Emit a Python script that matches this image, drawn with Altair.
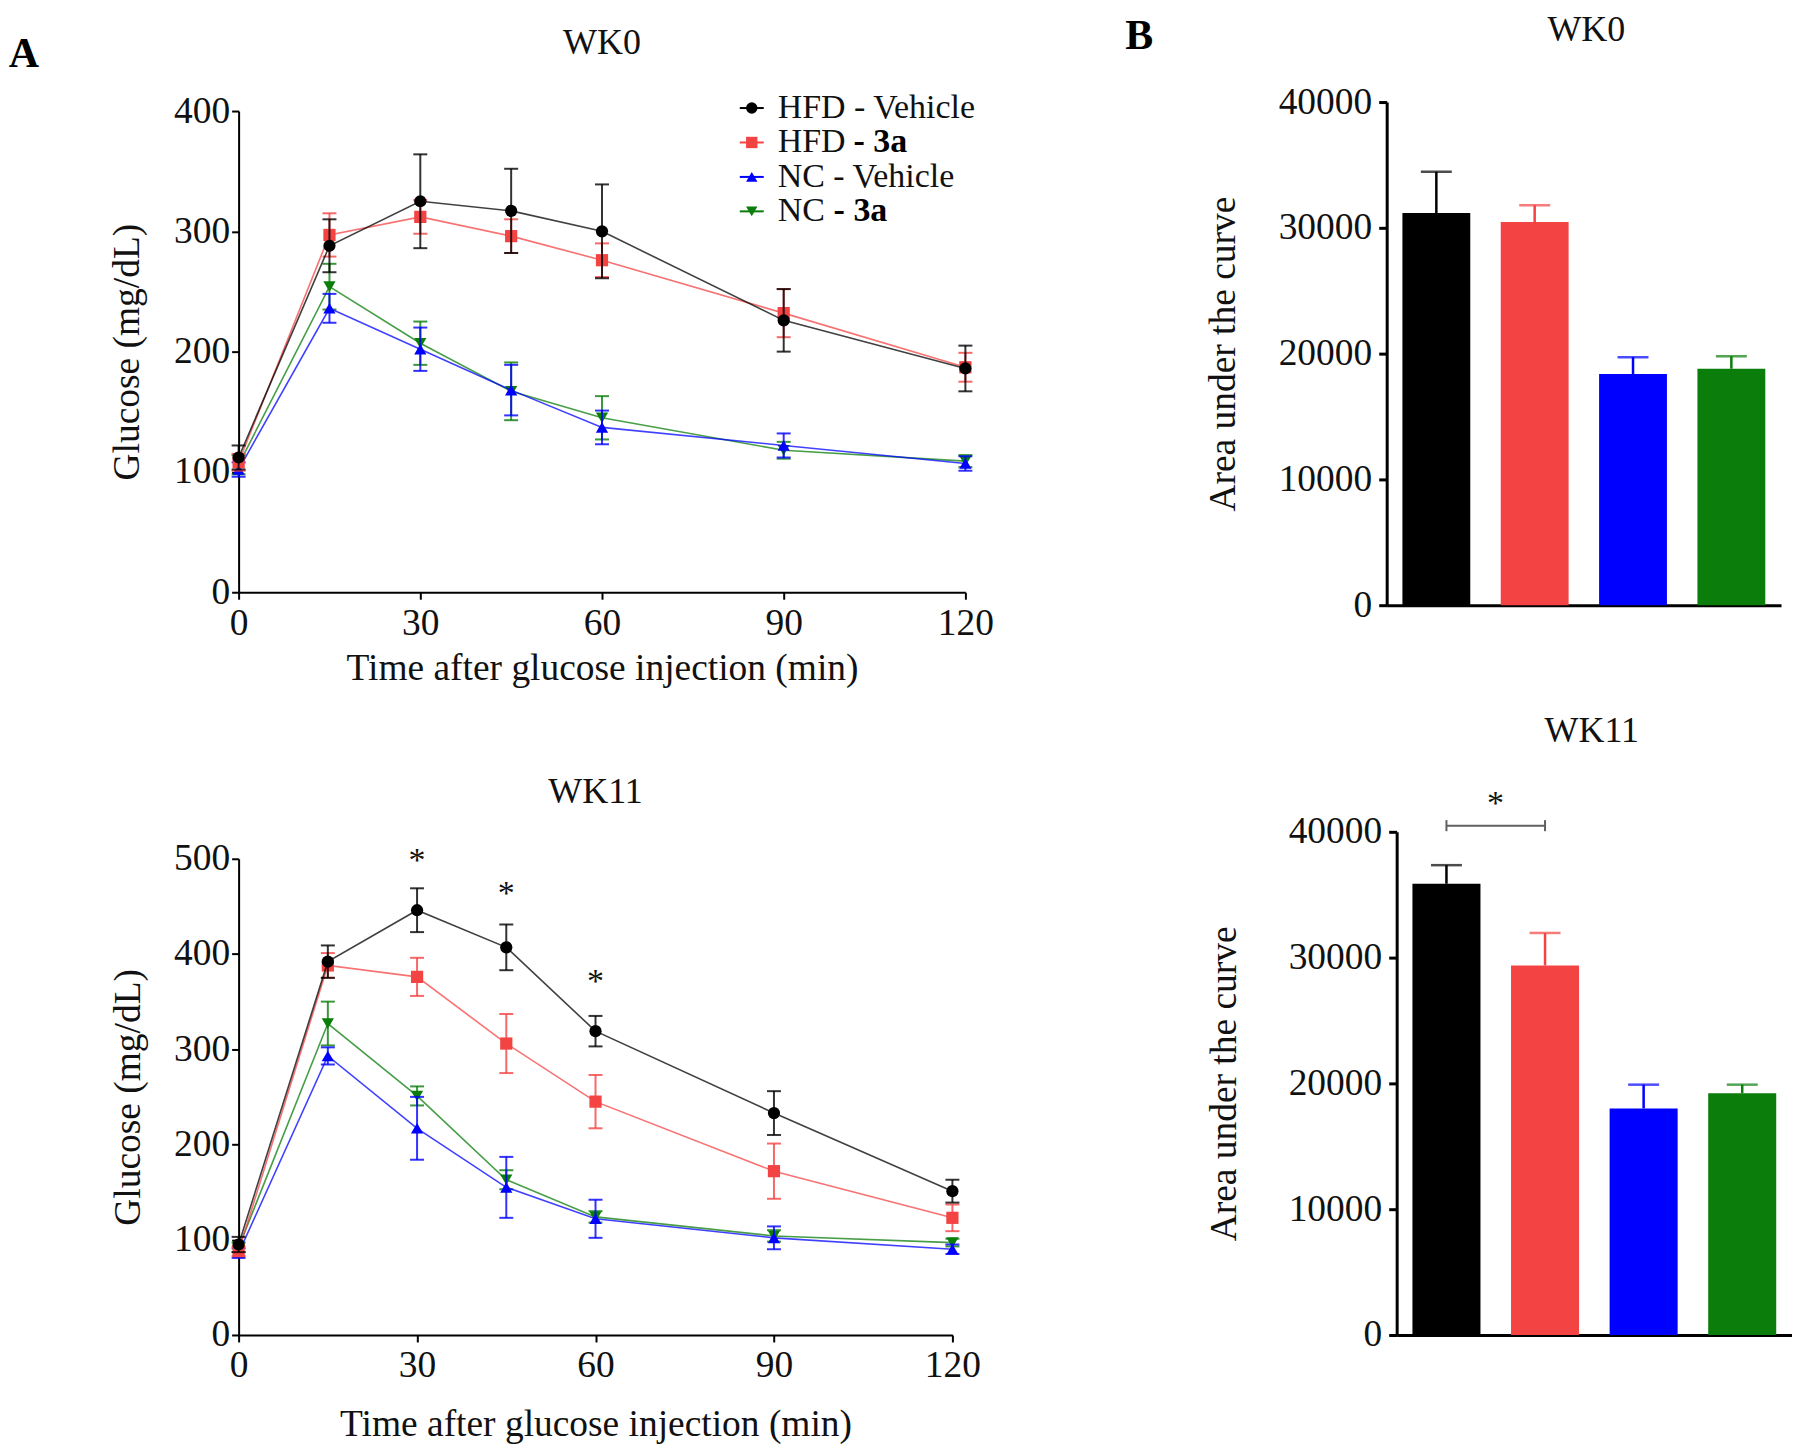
import altair as alt
import pandas as pd

FONT = "Liberation Serif"
INK = "#111111"

# ---------------- data ----------------
times = [0, 15, 30, 45, 60, 90, 120]
groups = ["HFD - Vehicle", "HFD - 3a", "NC - Vehicle", "NC - 3a"]
group_colors = ["#000000", "#F44343", "#0000FF", "#0A7D0A"]
group_shapes = ["circle", "square", "triangle-up", "triangle-down"]
legend_plain = ["HFD - Vehicle", "HFD", "NC - Vehicle", "NC"]
legend_bold = ["", "- 3a", "", "- 3a"]

# WK0 glucose tolerance (mean, SEM)
wk0_hfd_vehicle = [112, 288, 325, 317, 300, 226, 186]
wk0_hfd_vehicle_sem = [10, 22, 39, 35, 39, 26, 19]
wk0_hfd_3a = [108, 297, 312, 296, 276, 232, 187]
wk0_hfd_3a_sem = [7, 18, 14, 14, 14, 20, 12]
wk0_nc_vehicle = [102, 236, 202, 168, 137, 122, 107]
wk0_nc_vehicle_sem = [6, 12, 18, 21, 14, 10, 6]
wk0_nc_3a = [106, 254, 207, 167, 145, 118, 109]
wk0_nc_3a_sem = [8, 19, 18, 24, 18, 7, 5]

# WK11 glucose tolerance (mean, SEM)
wk11_hfd_vehicle = [95, 392, 446, 407, 319, 233, 151]
wk11_hfd_vehicle_sem = [8, 17, 23, 24, 16, 23, 12]
wk11_hfd_3a = [88, 388, 376, 306, 245, 172, 123]
wk11_hfd_3a_sem = [5, 13, 20, 31, 28, 29, 14]
wk11_nc_vehicle = [86, 293, 217, 155, 122, 102, 90]
wk11_nc_vehicle_sem = [5, 9, 33, 32, 20, 12, 5]
wk11_nc_3a = [92, 327, 251, 163, 124, 104, 97]
wk11_nc_3a_sem = [5, 23, 10, 10, 6, 6, 4]

# significance marks on WK11 curve
wk11_star_times = [30, 45, 60]
wk11_star_y = [505, 470, 378]

# AUC bars (mean, SEM)
auc_wk0 = [31170, 30460, 18380, 18800]
auc_wk0_sem = [3290, 1340, 1340, 990]
auc_wk11 = [35870, 29380, 18010, 19220]
auc_wk11_sem = [1480, 2580, 1890, 680]
auc_wk11_bracket_y = 40490
auc_wk11_star_y = 42760

wk0_means = [wk0_hfd_vehicle, wk0_hfd_3a, wk0_nc_vehicle, wk0_nc_3a]
wk0_sems = [wk0_hfd_vehicle_sem, wk0_hfd_3a_sem, wk0_nc_vehicle_sem, wk0_nc_3a_sem]
wk11_means = [wk11_hfd_vehicle, wk11_hfd_3a, wk11_nc_vehicle, wk11_nc_3a]
wk11_sems = [wk11_hfd_vehicle_sem, wk11_hfd_3a_sem, wk11_nc_vehicle_sem, wk11_nc_3a_sem]

LABEL_FS = 37.5
TITLE_FS = 36


# ---------------- line panels ----------------
def line_panel(means, sems, ymax, title, width, height, title_offset,
               ytp, xtp, extra=None):
    xs = alt.Scale(domain=[0, 120], nice=False, zero=False)
    ys = alt.Scale(domain=[0, ymax], nice=False)
    xax = alt.Axis(values=[0, 30, 60, 90, 120], title="Time after glucose injection (min)",
                   titleFontSize=37.5, titlePadding=xtp, labelPadding=5,
                   domainWidth=2, tickWidth=2, tickSize=7)
    yax = alt.Axis(values=list(range(0, ymax + 1, 100)), title="Glucose (mg/dL)",
                   titleFontSize=37.5, titlePadding=ytp, labelPadding=2,
                   domainWidth=2, tickWidth=2, tickSize=7)
    X = alt.X("t:Q", scale=xs, axis=xax)

    def Y(f):
        return alt.Y(f, scale=ys, axis=yax)

    layers = []
    for gi in [3, 2, 1, 0]:
        df = pd.DataFrame({
            "t": times,
            "mean": means[gi],
            "lo": [m - s for m, s in zip(means[gi], sems[gi])],
            "hi": [m + s for m, s in zip(means[gi], sems[gi])],
        })
        c = group_colors[gi]
        base = alt.Chart(df)
        layers += [
            base.mark_rule(color=c, strokeWidth=2, opacity=0.8).encode(x=X, y=Y("lo:Q"), y2="hi:Q"),
            base.mark_tick(color=c, orient="horizontal", size=14, thickness=2, opacity=0.8).encode(x=X, y=Y("hi:Q")),
            base.mark_tick(color=c, orient="horizontal", size=14, thickness=2, opacity=0.8).encode(x=X, y=Y("lo:Q")),
            base.mark_line(color=c, strokeWidth=1.6, opacity=0.75).encode(x=X, y=Y("mean:Q")),
            base.mark_point(color=c, shape=group_shapes[gi], filled=True, size=150, opacity=1).encode(x=X, y=Y("mean:Q")),
        ]
    if extra:
        layers += extra(X, Y)
    return alt.layer(*layers).properties(
        width=width, height=height,
        title=alt.TitleParams(title, fontSize=TITLE_FS, font=FONT, fontWeight="normal",
                              color=INK, offset=title_offset, anchor="middle"))


def tl_extra(X, Y):
    out = []
    one = alt.Chart(pd.DataFrame({"k": [0]}))
    # panel letters
    out.append(one.mark_text(
        text="A", font=FONT, fontSize=42, fontWeight="bold", color="black",
        baseline="middle", align="center").encode(x=alt.value(-215), y=alt.value(-57)))
    out.append(one.mark_text(
        text="B", font=FONT, fontSize=42, fontWeight="bold", color="black",
        baseline="middle", align="center").encode(x=alt.value(902), y=alt.value(-75)))
    # legend
    row_y = [-3, 31.5, 66, 100.5]
    bold_x = [0, 616, 0, 596]
    for gi in range(4):
        c = group_colors[gi]
        out.append(one.mark_rule(color=c, strokeWidth=2).encode(
            x=alt.value(502), x2=alt.value(526), y=alt.value(row_y[gi])))
        out.append(one.mark_point(color=c, shape=group_shapes[gi], filled=True, size=130, opacity=1).encode(
            x=alt.value(514), y=alt.value(row_y[gi])))
        out.append(one.mark_text(text=legend_plain[gi], font=FONT, fontSize=34, color=INK,
                                 align="left", baseline="middle").encode(
            x=alt.value(540), y=alt.value(row_y[gi])))
        if legend_bold[gi]:
            out.append(one.mark_text(text=legend_bold[gi], font=FONT, fontSize=34, color="black",
                                     fontWeight="bold", align="left", baseline="middle").encode(
                x=alt.value(bold_x[gi]), y=alt.value(row_y[gi])))
    return out


def bl_extra(X, Y):
    df = pd.DataFrame({"t": wk11_star_times, "y": wk11_star_y})
    return [alt.Chart(df).mark_text(text="*", font=FONT, fontSize=34, color=INK,
                                    baseline="alphabetic", dy=17).encode(x=X, y=Y("y:Q"))]


# ---------------- bar panels ----------------
def bar_panel(vals, errs, title, width, height, xrange, yrange, yoffset,
              title_offset, ytp, extra=None):
    df = pd.DataFrame({"group": groups, "auc": vals,
                       "hi": [v + e for v, e in zip(vals, errs)]})
    X = alt.X("group:N", sort=groups,
              scale=alt.Scale(domain=groups, range=xrange, paddingInner=0.31, paddingOuter=0.16),
              axis=alt.Axis(title=None, labels=False, ticks=False, domainWidth=3))
    ys = alt.Scale(domain=[0, 40000], nice=False, range=yrange)
    yax = alt.Axis(values=[0, 10000, 20000, 30000, 40000], format="d",
                   title="Area under the curve", titleFontSize=37.5, titlePadding=ytp,
                   labelPadding=7, domainWidth=3, tickWidth=3, tickSize=8, offset=yoffset)

    def Y(f):
        return alt.Y(f, scale=ys, axis=yax)

    col = alt.Color("group:N", scale=alt.Scale(domain=groups, range=group_colors), legend=None)
    base = alt.Chart(df)
    layers = [
        base.mark_rule(strokeWidth=2.5).encode(x=X, y=Y("auc:Q"), y2="hi:Q", color=col),
        base.mark_tick(orient="horizontal", size=31, thickness=2.5).encode(x=X, y=Y("hi:Q"), color=col),
        base.mark_bar().encode(x=X, y=Y("auc:Q"), color=col),
    ]
    if extra:
        layers += extra(X, Y)
    return alt.layer(*layers).properties(
        width=width, height=height,
        title=alt.TitleParams(title, fontSize=TITLE_FS, font=FONT, fontWeight="normal",
                              color=INK, offset=title_offset, anchor="middle"))


def br_extra(X, Y):
    bdf = pd.DataFrame({"group": groups[:2], "y": [auc_wk11_bracket_y] * 2,
                        "lo": [auc_wk11_bracket_y - 440] * 2,
                        "hi": [auc_wk11_bracket_y + 440] * 2})
    sdf = pd.DataFrame({"group": groups[:1], "y": [auc_wk11_star_y]})
    return [
        alt.Chart(bdf).mark_line(color="#606060", strokeWidth=2).encode(x=X, y=Y("y:Q")),
        alt.Chart(bdf).mark_rule(color="#606060", strokeWidth=2).encode(x=X, y=Y("lo:Q"), y2="hi:Q"),
        alt.Chart(sdf).mark_text(text="*", font=FONT, fontSize=34, color=INK,
                                 baseline="alphabetic", dx=49, dy=17).encode(x=X, y=Y("y:Q")),
    ]


tl = line_panel(wk0_means, wk0_sems, 400, "WK0", 728, 482, -47, 27, 8, tl_extra)
bl = line_panel(wk11_means, wk11_sems, 500, "WK11", 715, 477, 29, 26, 21, bl_extra)
tr = bar_panel(auc_wk0, auc_wk0_sem, "WK0", 390, 495, [-5, 390], [495, -9], 5, 34, 36)
br = bar_panel(auc_wk11, auc_wk11_sem, "WK11", 401, 504, [5, 401], [504, 0], -5, 37, 45, br_extra)

left = alt.vconcat(tl, bl, spacing=87)
right = alt.vconcat(tr, br, spacing=89)

chart = alt.hconcat(left, right, spacing=50).properties(
    padding={"left": 0, "top": 3, "right": 0, "bottom": 0}).configure_view(
    stroke=None).configure_axis(
    labelFont=FONT, labelFontSize=LABEL_FS, labelColor=INK, titleFont=FONT,
    titleFontWeight="normal", titleColor=INK, domainColor="black", tickColor="black",
    grid=False, labelFlush=False, labelOverlap=False)

chart.save("out.html", embed_options={"renderer": "svg", "actions": False})
